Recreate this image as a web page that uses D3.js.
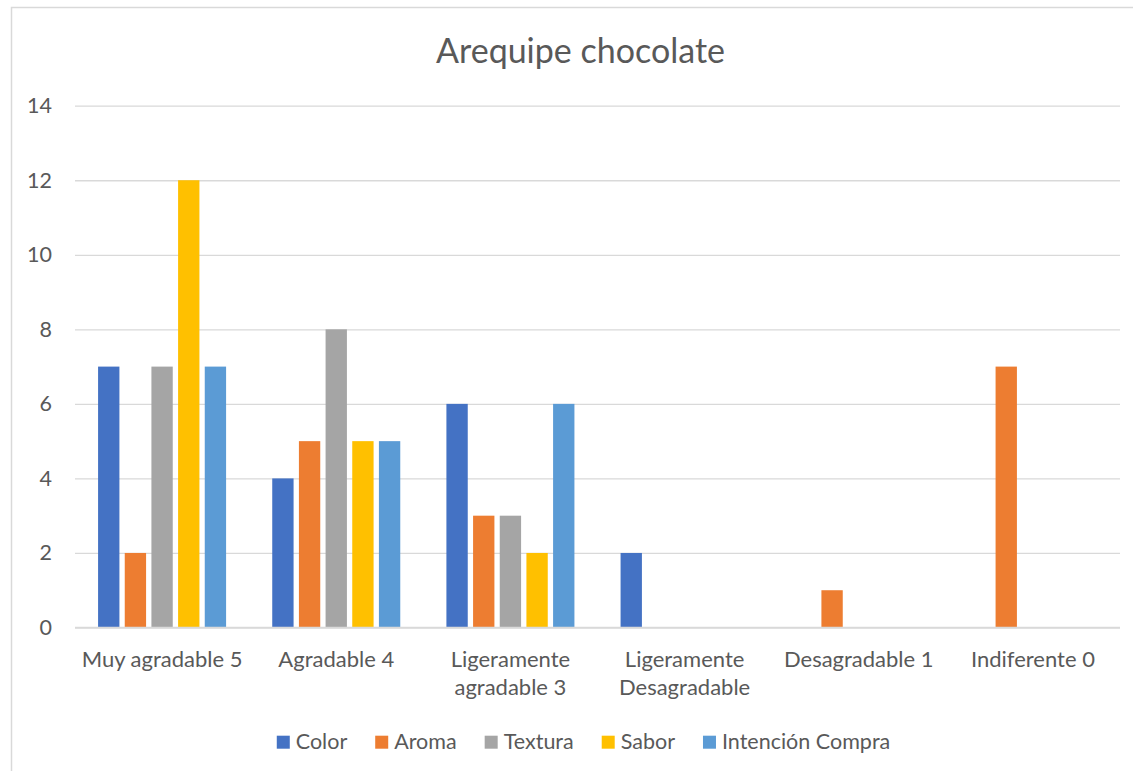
<!DOCTYPE html>
<html><head><meta charset="utf-8">
<script src="https://cdn.jsdelivr.net/npm/d3@7"></script>
<style>body{margin:0;background:#fff;} svg{display:block;font-family:Lato,"Open Sans",sans-serif;}</style>
</head><body><svg id="c" width="1133" height="771"></svg>
<script>
const categories = ["Muy agradable 5","Agradable 4","Ligeramente agradable 3","Ligeramente Desagradable","Desagradable 1","Indiferente 0"];
const seriesNames = ["Color","Aroma","Textura","Sabor","Intención Compra"];
const color = [7,4,6,2,0,0];
const aroma = [2,5,3,0,1,7];
const textura = [7,8,3,0,0,0];
const sabor = [12,5,2,0,0,0];
const intencion = [7,5,6,0,0,0];
const yTicks = [0,2,4,6,8,10,12,14];
const colors = ["#4472C4","#ED7D31","#A5A5A5","#FFC000","#5B9BD5"];
const seriesValues = [color, aroma, textura, sabor, intencion];

const svg = d3.select("#c");
const txt = "#595959";
svg.append("rect").attr("x",11.5).attr("y",7.5).attr("width",1130).attr("height",770)
  .attr("fill","#fff").attr("stroke","#d9d9d9").attr("stroke-width",1.5);

const L=75, R=1120, T=105.7, B=627.5;
const x0 = d3.scaleBand().domain(categories).range([L,R]).paddingInner(0.265).paddingOuter(0.1325);
const x1 = d3.scaleBand().domain(seriesNames).range([0,x0.bandwidth()]).paddingInner(0.2).paddingOuter(0);
const y = d3.scaleLinear().domain([0,14]).range([B,T]);
const cScale = d3.scaleOrdinal().domain(seriesNames).range(colors);

// title
svg.append("text").attr("x",580.5).attr("y",63).attr("text-anchor","middle")
  .attr("font-size",34).attr("fill",txt).text("Arequipe chocolate");

// grid + y axis
const yAxis = d3.axisLeft(y).tickValues(yTicks).tickSize(-(R-L)).tickPadding(23).tickFormat(d3.format("d"));
const gy = svg.append("g").attr("transform",`translate(${L},0)`).call(yAxis);
gy.select(".domain").remove();
gy.selectAll(".tick line").attr("stroke","#d9d9d9").attr("stroke-width",1.3);
gy.selectAll(".tick text").attr("fill",txt).attr("font-size",21.5).attr("font-family","Lato,sans-serif");

// bars
const data = [];
categories.forEach((c,i)=>seriesNames.forEach((s,j)=>data.push({c,s,v:seriesValues[j][i]})));
svg.append("g").selectAll("rect").data(data.filter(d=>d.v>0)).join("rect")
  .attr("x",d=>x0(d.c)+x1(d.s)).attr("width",x1.bandwidth())
  .attr("y",d=>y(d.v)).attr("height",d=>y(0)-y(d.v)).attr("fill",d=>cScale(d.s));

// baseline
svg.append("line").attr("x1",L).attr("x2",R).attr("y1",y(0)).attr("y2",y(0)).attr("stroke","#d9d9d9").attr("stroke-width",1.5);

// x axis
const xAxis = d3.axisBottom(x0).tickSize(0).tickPadding(39);
const gx = svg.append("g").attr("transform",`translate(0,${B})`).call(xAxis);
gx.select(".domain").remove();
gx.selectAll(".tick text").attr("fill",txt).attr("font-size",22).attr("font-family","Lato,sans-serif")
  .attr("dy",0).call(wrap, x0.step()-4);

function wrap(sel, width){
  sel.each(function(){
    const t = d3.select(this);
    const words = t.text().split(/\s+/);
    const yy = +t.attr("y");
    t.text(null);
    let line=[], lineNo=0;
    let ts = t.append("tspan").attr("x",0).attr("y",yy);
    words.forEach(w=>{
      line.push(w); ts.text(line.join(" "));
      if(ts.node().getComputedTextLength()>width && line.length>1){
        line.pop(); ts.text(line.join(" "));
        line=[w]; lineNo++;
        ts = t.append("tspan").attr("x",0).attr("y",yy+lineNo*28).text(w);
      }
    });
  });
}

// legend (laid out from measured text widths, centred)
const lg = svg.append("g");
const items = seriesNames.map((s,i)=>{
  const g = lg.append("g");
  g.append("rect").attr("x",0).attr("y",735.7).attr("width",13).attr("height",13).attr("fill",colors[i]);
  const t = g.append("text").attr("x",19).attr("y",749).attr("font-size",21.5).attr("fill",txt).text(s);
  return {g, w: 19 + t.node().getComputedTextLength()};
});
const gap = 28;
const total = d3.sum(items, d=>d.w) + gap*(items.length-1);
let cx = 583.5 - total/2;
items.forEach(it=>{ it.g.attr("transform",`translate(${cx},0)`); cx += it.w + gap; });
</script></body></html>
